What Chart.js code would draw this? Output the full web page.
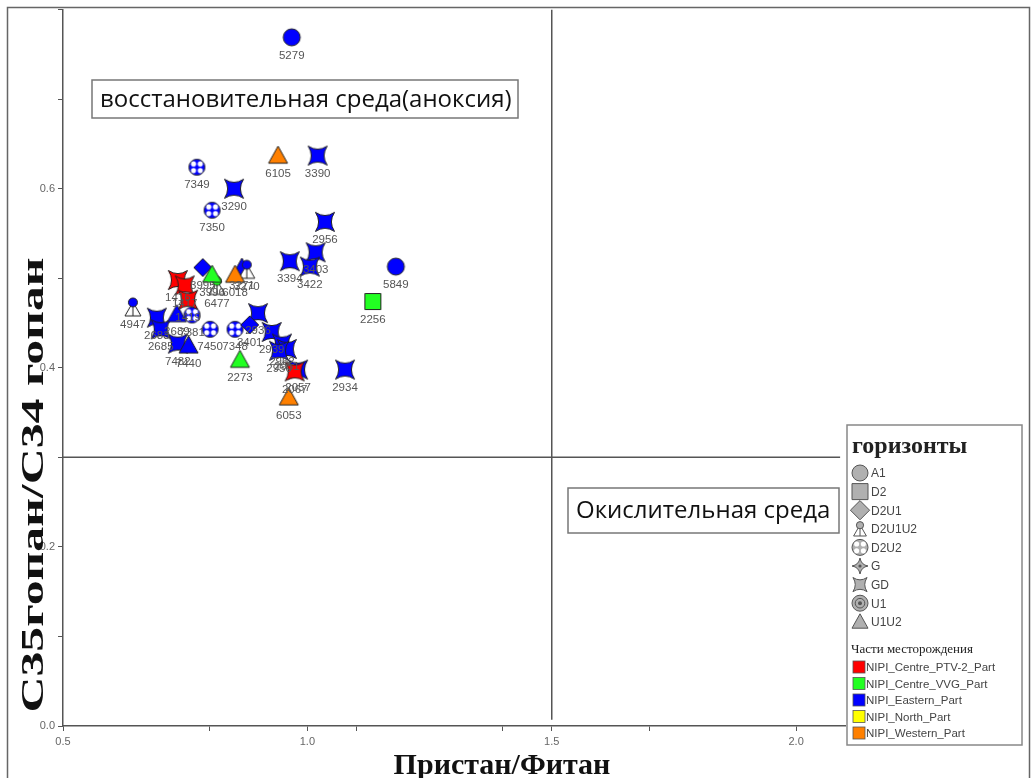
<!DOCTYPE html>
<html>
<head>
<meta charset="utf-8">
<script src="https://cdn.jsdelivr.net/npm/chart.js@4"></script>
<style>
  html, body { margin: 0; padding: 0; background: #fff; }
  #wrap { width: 1032px; height: 778px; }
</style>
</head>
<body>
<div id="wrap"><canvas id="myChart" width="1032" height="778"></canvas></div>
<script>
// axis ticks
const xTickLabels = [0.5, 1.0, 1.5, 2.0];
const xMinorTicks = [0.8, 1.1, 1.4, 1.7];
const yTickLabels = [0.0, 0.2, 0.4, 0.6];

// boundary lines: Pr/Ph = 1.5 and C35/C34 = 0.3
const prPhLimit = 1.5;
const hopaneLimit = 0.3;

// legend entries
const horizons = ['A1', 'D2', 'D2U1', 'D2U1U2', 'D2U2', 'G', 'GD', 'U1', 'U1U2'];
const parts = ['NIPI_Centre_PTV-2_Part', 'NIPI_Centre_VVG_Part', 'NIPI_Eastern_Part', 'NIPI_North_Part', 'NIPI_Western_Part'];

// samples: [Pr/Ph, C35/C34] and well ids
const gdPtv = [[0.735, 0.498], [0.749, 0.492], [0.756, 0.476], [0.974, 0.396]];
const gdPtvIds = ['1416', '1417', '1419', '2067'];

const u1u2Western = [[0.940, 0.637], [0.852, 0.504], [0.962, 0.367]];
const u1u2WesternIds = ['6105', '6018', '6053'];

const u1u2Vvg = [[0.805, 0.504], [0.862, 0.409]];
const u1u2VvgIds = ['3996', '2273'];

const d2u1u2Vvg = [[0.815, 0.492]];
const d2u1u2VvgIds = ['6477'];

const d2Vvg = [[1.134, 0.474]];
const d2VvgIds = ['2256'];

const a1Eastern = [[0.968, 0.769], [1.181, 0.513]];
const a1EasternIds = ['5279', '5849'];

const d2u1Eastern = [[0.786, 0.512], [0.882, 0.448]];
const d2u1EasternIds = ['3995', '3401'];

const d2u1u2Eastern = [[0.643, 0.468], [0.876, 0.510]];
const d2u1u2EasternIds = ['4947', '3270'];

const u1u2Eastern = [[0.733, 0.460], [0.757, 0.425], [0.866, 0.512]];
const u1u2EasternIds = ['2689', '7440', '3271'];

const d2u2Eastern = [[0.774, 0.624], [0.805, 0.576], [0.764, 0.459], [0.801, 0.443], [0.852, 0.443]];
const d2u2EasternIds = ['7349', '7350', '7381', '7450', '7348'];

const gdEastern = [
    [1.021, 0.637], [0.850, 0.600], [1.036, 0.563], [0.964, 0.519], [1.017, 0.529], [1.005, 0.513],
    [0.692, 0.456], [0.700, 0.443], [0.735, 0.427], [0.899, 0.461], [0.927, 0.440], [0.948, 0.427],
    [0.958, 0.421], [0.942, 0.419], [0.981, 0.398], [1.077, 0.398]
];
const gdEasternIds = ['3390', '3290', '2956', '3394', '3403', '3422', '2683', '2685', '7482',
    '2936', '2939', '2962', '2951', '2950', '2057', '2934'];

const partColors = ['#ff0000', '#22ff22', '#0000ff', '#ffff00', '#ff8000'];
const horizonShapes = ['circle', 'square', 'diamond', 'triDot', 'crossCircle', 'gStar', 'star4', 'ring', 'triangle'];

//draw one marker shape centered at cx, cy
function drawShape(ctx, shape, cx, cy, r, fill, stroke) {
    ctx.save();
    ctx.translate(cx, cy);
    ctx.lineWidth = 1;
    ctx.strokeStyle = stroke;
    ctx.fillStyle = fill;
    ctx.beginPath();
    if (shape === 'circle') {
        ctx.arc(0, 0, r, 0, Math.PI * 2);
        ctx.fill(); ctx.stroke();
    } else if (shape === 'square') {
        ctx.rect(-r, -r, r * 2, r * 2);
        ctx.fill(); ctx.stroke();
    } else if (shape === 'diamond') {
        ctx.moveTo(0, -r * 1.2); ctx.lineTo(r * 1.2, 0); ctx.lineTo(0, r * 1.2); ctx.lineTo(-r * 1.2, 0);
        ctx.closePath(); ctx.fill(); ctx.stroke();
    } else if (shape === 'triangle') {
        ctx.moveTo(0, -r); ctx.lineTo(r, r * 0.8); ctx.lineTo(-r, r * 0.8);
        ctx.closePath(); ctx.fill(); ctx.stroke();
    } else if (shape === 'triDot') {
        ctx.fillStyle = '#fff';
        ctx.moveTo(0, -r * 0.5); ctx.lineTo(r * 0.8, r * 0.9); ctx.lineTo(-r * 0.8, r * 0.9);
        ctx.closePath(); ctx.fill(); ctx.stroke();
        ctx.beginPath(); ctx.moveTo(0, -r * 0.5); ctx.lineTo(0, r * 0.9); ctx.stroke();
        ctx.beginPath(); ctx.fillStyle = fill;
        ctx.arc(0, -r * 0.45, r * 0.45, 0, Math.PI * 2);
        ctx.fill(); ctx.stroke();
    } else if (shape === 'crossCircle') {
        ctx.arc(0, 0, r, 0, Math.PI * 2);
        ctx.fill(); ctx.stroke();
        ctx.fillStyle = '#fff';
        [[1, 1], [1, -1], [-1, 1], [-1, -1]].forEach(q => {
            ctx.beginPath();
            ctx.arc(q[0] * r * 0.42, q[1] * r * 0.42, r * 0.32, 0, Math.PI * 2);
            ctx.fill();
        });
    } else if (shape === 'star4' || shape === 'gStar') {
        const rot = shape === 'star4' ? Math.PI / 4 : 0;
        const inner = shape === 'star4' ? 0.24 : 0.2;
        for (let k = 0; k < 4; k++) {
            const a = rot + k * Math.PI / 2;
            const b = a + Math.PI / 4;
            const tip = [Math.cos(a) * r, Math.sin(a) * r];
            const ctl = [Math.cos(b) * r * inner, Math.sin(b) * r * inner];
            if (k === 0) ctx.moveTo(tip[0], tip[1]);
            const n = rot + (k + 1) * Math.PI / 2;
            ctx.quadraticCurveTo(ctl[0], ctl[1], Math.cos(n) * r, Math.sin(n) * r);
        }
        ctx.closePath(); ctx.fill(); ctx.stroke();
        if (shape === 'gStar') {
            ctx.beginPath(); ctx.fillStyle = stroke;
            ctx.arc(0, 0, r * 0.2, 0, Math.PI * 2); ctx.fill();
        }
    } else if (shape === 'ring') {
        ctx.arc(0, 0, r, 0, Math.PI * 2);
        ctx.fill(); ctx.stroke();
        ctx.beginPath(); ctx.arc(0, 0, r * 0.6, 0, Math.PI * 2); ctx.stroke();
        ctx.beginPath(); ctx.fillStyle = stroke; ctx.arc(0, 0, r * 0.25, 0, Math.PI * 2); ctx.fill();
    }
    ctx.restore();
}

//marker image for chart.js pointStyle
function makeIcon(shape, color, r) {
    const c = document.createElement('canvas');
    const s = Math.ceil(r * 2.6) + 4;
    c.width = s; c.height = s;
    drawShape(c.getContext('2d'), shape, s / 2, s / 2, r, color, '#222');
    return c;
}

const shapeSize = { circle: 8.5, square: 8, diamond: 7.5, triangle: 9.5, triDot: 10, crossCircle: 8, star4: 13.5, gStar: 10, ring: 8 };

//series table: first = drawn on top
const groups = [
    { pts: gdPtv, ids: gdPtvIds, shape: 'star4', color: partColors[0] },
    { pts: u1u2Western, ids: u1u2WesternIds, shape: 'triangle', color: partColors[4] },
    { pts: u1u2Vvg, ids: u1u2VvgIds, shape: 'triangle', color: partColors[1] },
    { pts: d2u1u2Vvg, ids: d2u1u2VvgIds, shape: 'triDot', color: partColors[1] },
    { pts: d2Vvg, ids: d2VvgIds, shape: 'square', color: partColors[1] },
    { pts: a1Eastern, ids: a1EasternIds, shape: 'circle', color: partColors[2] },
    { pts: d2u1u2Eastern, ids: d2u1u2EasternIds, shape: 'triDot', color: partColors[2] },
    { pts: u1u2Eastern, ids: u1u2EasternIds, shape: 'triangle', color: partColors[2] },
    { pts: d2u1Eastern, ids: d2u1EasternIds, shape: 'diamond', color: partColors[2] },
    { pts: d2u2Eastern, ids: d2u2EasternIds, shape: 'crossCircle', color: partColors[2] },
    { pts: gdEastern, ids: gdEasternIds, shape: 'star4', color: partColors[2] }
];

let datasets = groups.map((g, i) => ({
    data: g.pts.map(p => ({ x: p[0], y: p[1] })),
    ids: g.ids,
    pointStyle: makeIcon(g.shape, g.color, shapeSize[g.shape]),
    order: i
}));

datasets.push({
    data: [{ x: prPhLimit, y: 0.007 }, { x: prPhLimit, y: 0.8 }],
    showLine: true, borderColor: '#555', borderWidth: 1.5, pointRadius: 0, order: 100
});
datasets.push({
    data: [{ x: 0.5, y: hopaneLimit }, { x: 2.09, y: hopaneLimit }],
    showLine: true, borderColor: '#555', borderWidth: 1.5, pointRadius: 0, order: 101
});

//text box
function textBox(ctx, text, x1, y1, x2, y2, size) {
    ctx.save();
    ctx.fillStyle = '#fff';
    ctx.fillRect(x1, y1, x2 - x1, y2 - y1);
    ctx.strokeStyle = '#777';
    ctx.lineWidth = 1.5;
    ctx.strokeRect(x1, y1, x2 - x1, y2 - y1);
    ctx.fillStyle = '#111';
    ctx.font = size + 'px "Open Sans"';
    ctx.textBaseline = 'middle';
    ctx.fillText(text, x1 + 8, (y1 + y2) / 2 + 1);
    ctx.restore();
}

const labelPlugin = {
    id: 'labels',
    afterDatasetsDraw(chart) {
        const ctx = chart.ctx;
        ctx.save();
        ctx.font = '11.5px "Liberation Sans"';
        ctx.fillStyle = '#555';
        ctx.textAlign = 'center';
        ctx.textBaseline = 'middle';
        chart.data.datasets.forEach((ds, i) => {
            if (!ds.ids) return;
            chart.getDatasetMeta(i).data.forEach((el, j) => {
                ctx.fillText(ds.ids[j], el.x, el.y + 18);
            });
        });
        ctx.restore();
    },
    afterDraw(chart) {
        const ctx = chart.ctx;
        textBox(ctx, 'восстановительная среда(аноксия)', 92, 80, 518, 118, 24);
        textBox(ctx, 'Окислительная среда', 568, 488, 839, 533, 24);

        // axis titles
        ctx.save();
        ctx.fillStyle = '#111';
        ctx.font = 'bold 30px "Liberation Serif"';
        ctx.textAlign = 'center';
        ctx.textBaseline = 'alphabetic';
        ctx.fillText('Пристан/Фитан', 502, 774);
        ctx.translate(43, 485);
        ctx.rotate(-Math.PI / 2);
        ctx.font = 'bold 32px "Liberation Serif"';
        const w = ctx.measureText('C35гопан/C34 гопан').width;
        ctx.scale(455 / w, 1);
        ctx.fillText('C35гопан/C34 гопан', 0, 0);
        ctx.restore();

        // legend panel
        ctx.save();
        ctx.fillStyle = '#fff';
        ctx.fillRect(847, 425, 175, 320);
        ctx.strokeStyle = '#888';
        ctx.lineWidth = 1.5;
        ctx.strokeRect(847, 425, 175, 320);
        ctx.fillStyle = '#222';
        ctx.font = 'bold 24px "Liberation Serif"';
        ctx.textBaseline = 'alphabetic';
        ctx.fillText('горизонты', 852, 453);
        ctx.font = '12px "Liberation Sans"';
        ctx.textBaseline = 'middle';
        horizons.forEach((h, i) => {
            const y = 473 + i * 18.6;
            drawShape(ctx, horizonShapes[i], 860, y, horizonShapes[i] === 'star4' ? 10 : 8, '#b0b0b0', '#555');
            ctx.fillStyle = '#444';
            ctx.fillText(h, 871, y + 1);
        });
        ctx.font = '13px "Liberation Serif"';
        ctx.fillStyle = '#222';
        ctx.fillText('Части месторождения', 851, 650);
        ctx.font = '11.5px "Liberation Sans"';
        parts.forEach((p, i) => {
            const y = 667 + i * 16.5;
            ctx.fillStyle = partColors[i];
            ctx.fillRect(853, y - 6, 12, 12);
            ctx.strokeStyle = '#555';
            ctx.lineWidth = 0.8;
            ctx.strokeRect(853, y - 6, 12, 12);
            ctx.fillStyle = '#444';
            ctx.fillText(p, 866, y + 1);
        });
        ctx.restore();

        // outer frame
        ctx.save();
        ctx.strokeStyle = '#666';
        ctx.lineWidth = 1.5;
        ctx.strokeRect(7.5, 7.5, 1022, 800);
        ctx.restore();
    }
};

const ctx = document.getElementById('myChart');
new Chart(ctx, {
    type: 'scatter',
    data: { datasets: datasets },
    options: {
        responsive: false,
        animation: false,
        layout: { padding: { top: 8, right: 187, left: 0, bottom: 0 } },
        plugins: { legend: { display: false }, tooltip: { enabled: false } },
        scales: {
            x: {
                type: 'linear',
                min: 0.5,
                max: 2.1,
                afterFit: s => { s.height = 52; },
                afterBuildTicks: s => {
                    s.ticks = xTickLabels.concat(xMinorTicks).sort((a, b) => a - b).map(v => ({ value: v }));
                },
                ticks: {
                    autoSkip: false,
                    maxRotation: 0,
                    padding: 4,
                    color: '#666',
                    font: { size: 11, family: 'Liberation Sans' },
                    callback: v => xTickLabels.some(t => Math.abs(t - v) < 1e-6) ? v.toFixed(1) : ''
                },
                grid: { drawOnChartArea: false, drawTicks: true, tickLength: 5, color: '#555' },
                border: { display: true, color: '#555', width: 1.5 }
            },
            y: {
                type: 'linear',
                min: 0,
                max: 0.8,
                afterFit: s => { s.width = 63; },
                ticks: {
                    stepSize: 0.1,
                    autoSkip: false,
                    padding: 3,
                    color: '#666',
                    font: { size: 11, family: 'Liberation Sans' },
                    callback: v => yTickLabels.some(t => Math.abs(t - v) < 1e-6) ? v.toFixed(1) : ''
                },
                grid: { drawOnChartArea: false, drawTicks: true, tickLength: 5, color: '#555' },
                border: { display: true, color: '#555', width: 1.5 }
            }
        }
    },
    plugins: [labelPlugin]
});
</script>
</body>
</html>
